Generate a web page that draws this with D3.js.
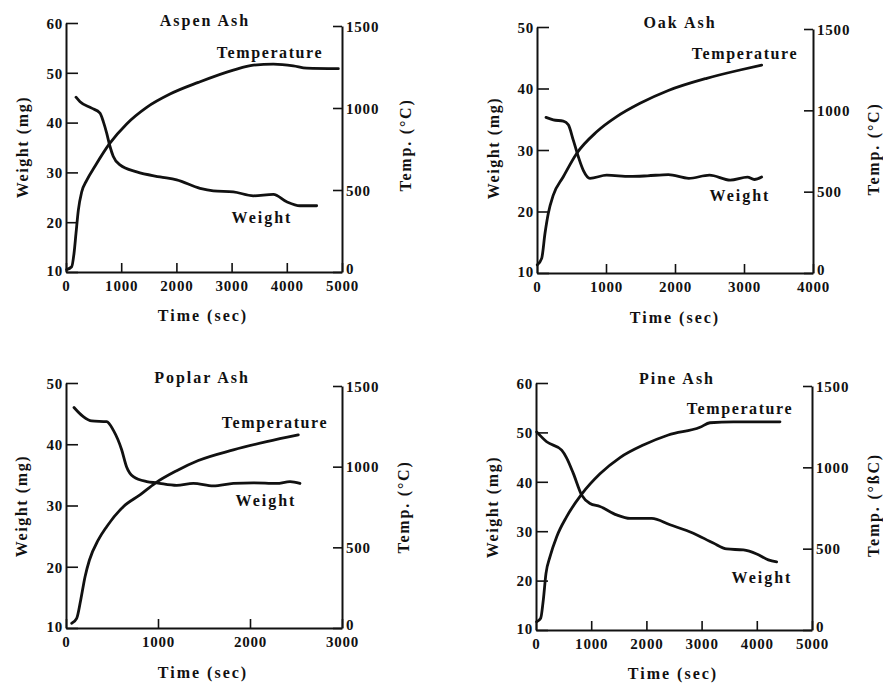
<!DOCTYPE html>
<html>
<head>
<meta charset="utf-8">
<script src="https://cdn.jsdelivr.net/npm/d3@7"></script>
<style>
  html, body { margin: 0; padding: 0; background: #fff; }
  svg { display: block; }
  svg text { font-family: "Liberation Serif", "Times New Roman", "DejaVu Serif", serif !important; font-weight: bold; fill: #111; }
</style>
</head>
<body>
<svg id="chart" width="883" height="683"></svg>
<script>
// ---------- DATA ----------
const panelTitles = ["Aspen Ash", "Oak Ash", "Poplar Ash", "Pine Ash"];
const rightAxisLabels = ["Temp. (°C)", "Temp. (°C)", "Temp. (°C)", "Temp. (°ßC)"];
const timeMax = [5000, 4000, 3000, 5000];
const weightMin = [10, 10, 10, 10];
const weightMax = [60, 50, 50, 60];
const tempTicks = [0, 500, 1000, 1500];

// Aspen
const aspenWeightTime = [181, 254, 465, 616, 676, 737, 797, 857, 978, 1281, 1703, 2005, 2428, 2669, 3031, 3394, 3756, 3998, 4239, 4541];
const aspenWeight     = [45.1, 44.2, 42.9, 41.9, 40.2, 37.9, 35.2, 33.2, 31.5, 30.1, 29.1, 28.5, 26.8, 26.3, 26.1, 25.3, 25.6, 24.1, 23.3, 23.3];
const aspenTempTime   = [12, 103, 145, 181, 223, 284, 375, 525, 785, 1099, 1462, 1884, 2397, 3031, 3394, 3756, 4118, 4360, 4934];
const aspenTemp       = [15, 32, 113, 235, 376, 488, 559, 645, 781, 903, 1004, 1085, 1156, 1231, 1261, 1267, 1257, 1243, 1240];

// Oak
const oakWeightTime = [130, 236, 381, 454, 526, 599, 671, 768, 1010, 1348, 1600, 1903, 2200, 2500, 2800, 3050, 3150, 3256];
const oakWeight     = [35.3, 34.9, 34.7, 34.1, 31.6, 28.9, 26.7, 25.4, 25.9, 25.7, 25.8, 26.0, 25.4, 25.9, 25.1, 25.6, 25.2, 25.6];
const oakTempTime   = [4, 68, 116, 164, 236, 381, 575, 865, 1155, 1493, 1903, 2459, 2942, 3256];
const oakTemp       = [50, 90, 244, 367, 479, 592, 735, 868, 961, 1043, 1122, 1197, 1248, 1278];

// Poplar
const poplarWeightTime = [87, 188, 279, 442, 514, 605, 659, 732, 877, 986, 1203, 1384, 1601, 1819, 2036, 2290, 2435, 2543];
const poplarWeight     = [46.0, 44.5, 43.8, 43.7, 42.3, 39.1, 36.3, 34.7, 33.9, 33.7, 33.3, 33.6, 33.2, 33.6, 33.7, 33.6, 33.9, 33.6];
const poplarTempTime   = [62, 116, 160, 207, 254, 351, 442, 623, 804, 967, 1203, 1438, 1819, 2181, 2525];
const poplarTemp       = [29, 60, 174, 318, 420, 546, 628, 752, 825, 897, 975, 1038, 1104, 1155, 1197];

// Pine
const pineWeightTime = [12, 193, 465, 556, 676, 828, 978, 1159, 1461, 1703, 2096, 2428, 2850, 3212, 3454, 3756, 3998, 4209, 4360];
const pineWeight     = [50.1, 48.1, 46.4, 44.8, 41.7, 37.3, 35.6, 35.0, 33.3, 32.6, 32.6, 31.3, 29.6, 27.6, 26.4, 26.2, 25.4, 24.2, 23.8];
const pineTempTime   = [12, 85, 132, 181, 254, 375, 556, 828, 1159, 1522, 1944, 2397, 2971, 3152, 3575, 4058, 4420];
const pineTemp       = [51, 72, 184, 348, 451, 574, 697, 835, 960, 1060, 1137, 1199, 1246, 1274, 1280, 1280, 1280];

const weightTimes = [aspenWeightTime, oakWeightTime, poplarWeightTime, pineWeightTime];
const weights     = [aspenWeight, oakWeight, poplarWeight, pineWeight];
const tempTimes   = [aspenTempTime, oakTempTime, poplarTempTime, pineTempTime];
const temps       = [aspenTemp, oakTemp, poplarTemp, pineTemp];

// ---------- LAYOUT ----------
const layout = [
  { x0: 66,  x1: 342, yTopL: 23,  yTopR: 26,  yBot: 272, title: [205, 20], tLabel: [270, 52], wLabel: [262, 217], leftLab: [22, 147],  rightLab: [405, 145], xLab: [203, 315] },
  { x0: 537, x1: 813, yTopL: 27,  yTopR: 29,  yBot: 273, title: [680, 22], tLabel: [745, 53], wLabel: [740, 195], leftLab: [493, 148], rightLab: [873, 149], xLab: [675, 317] },
  { x0: 66,  x1: 342, yTopL: 383, yTopR: 386, yBot: 628, title: [202, 377], tLabel: [275, 422], wLabel: [266, 500], leftLab: [21, 506],  rightLab: [403, 507], xLab: [203, 672] },
  { x0: 536, x1: 812, yTopL: 383, yTopR: 386, yBot: 630, title: [677, 378], tLabel: [740, 408], wLabel: [762, 577], leftLab: [492, 507], rightLab: [873, 505], xLab: [673, 673] }
];

const svg = d3.select("#chart");

layout.forEach((L, i) => {
  const g = svg.append("g");
  const x = d3.scaleLinear().domain([0, timeMax[i]]).range([L.x0, L.x1]);
  const yW = d3.scaleLinear().domain([weightMin[i], weightMax[i]]).range([L.yBot, L.yTopL]);
  const yT = d3.scaleLinear().domain([0, 1500]).range([L.yBot, L.yTopR]);

  // bottom axis (ticks pointing inward)
  const xAxis = d3.axisBottom(x).tickValues(d3.range(0, timeMax[i] + 1, 1000))
    .tickSizeInner(-9).tickSizeOuter(0).tickPadding(8).tickFormat(d3.format("d"));
  const gx = g.append("g").attr("transform", `translate(0,${L.yBot})`).call(xAxis);

  // left axis
  const wTicks = d3.range(weightMin[i], weightMax[i] + 1, 10);
  const yAxisL = d3.axisLeft(yW).tickValues(wTicks)
    .tickSizeInner(-12).tickSizeOuter(0).tickPadding(3).tickFormat(d3.format("d"));
  const gl = g.append("g").attr("transform", `translate(${L.x0},0)`).call(yAxisL);

  // right axis
  const yAxisR = d3.axisRight(yT).tickValues(tempTicks)
    .tickSizeInner(-9).tickSizeOuter(0).tickPadding(4).tickFormat(d3.format("d"));
  const gr = g.append("g").attr("transform", `translate(${L.x1},0)`).call(yAxisR);

  [gx, gl, gr].forEach(a => {
    a.select(".domain").attr("stroke", "#111").attr("stroke-width", 2);
    a.selectAll(".tick line").attr("stroke", "#111").attr("stroke-width", 1.6);
    a.selectAll(".tick text")
      .style("font-size", "15px").style("letter-spacing", "0.8px")
      .attr("fill", "#111");
  });
  gl.selectAll(".tick text").attr("dy", "0.35em");
  gr.selectAll(".tick text").attr("dy", "0.35em");
  // lift the right-axis "0" a little so it clears the last time label
  gr.selectAll(".tick text").filter(d => d === 0).attr("dy", "0.1em");
  gl.selectAll(".tick text").filter(d => d === weightMin[i]).attr("dy", "0.2em");

  // curves
  const wData = weightTimes[i].map((t, k) => [t, weights[i][k]]);
  const tData = tempTimes[i].map((t, k) => [t, temps[i][k]]);
  const lineW = d3.line().x(d => x(d[0])).y(d => yW(d[1])).curve(d3.curveMonotoneX);
  const lineT = d3.line().x(d => x(d[0])).y(d => yT(d[1])).curve(d3.curveMonotoneX);
  [[wData, lineW], [tData, lineT]].forEach(([dat, ln]) => {
    g.append("path").datum(dat).attr("d", ln)
      .attr("fill", "none").attr("stroke", "#111").attr("stroke-width", 2.8)
      .attr("stroke-linejoin", "round").attr("stroke-linecap", "round");
  });

  // texts
  const txt = (pos, s, size, ls, rot) => {
    const t = g.append("text").attr("text-anchor", "middle").attr("dominant-baseline", "central")
      .style("font-size", size + "px").style("letter-spacing", ls + "px").text(s);
    if (rot) t.attr("transform", `translate(${pos[0]},${pos[1]}) rotate(-90)`);
    else t.attr("x", pos[0]).attr("y", pos[1]);
  };
  txt(L.title, panelTitles[i], 16, 2, false);
  txt(L.tLabel, "Temperature", 16, 1.6, false);
  txt(L.wLabel, "Weight", 16, 2, false);
  txt(L.xLab, "Time (sec)", 16, 2, false);
  txt(L.leftLab, "Weight (mg)", 16, 1.6, true);
  txt(L.rightLab, rightAxisLabels[i], 16, 1.8, true);
});
</script>
</body>
</html>
